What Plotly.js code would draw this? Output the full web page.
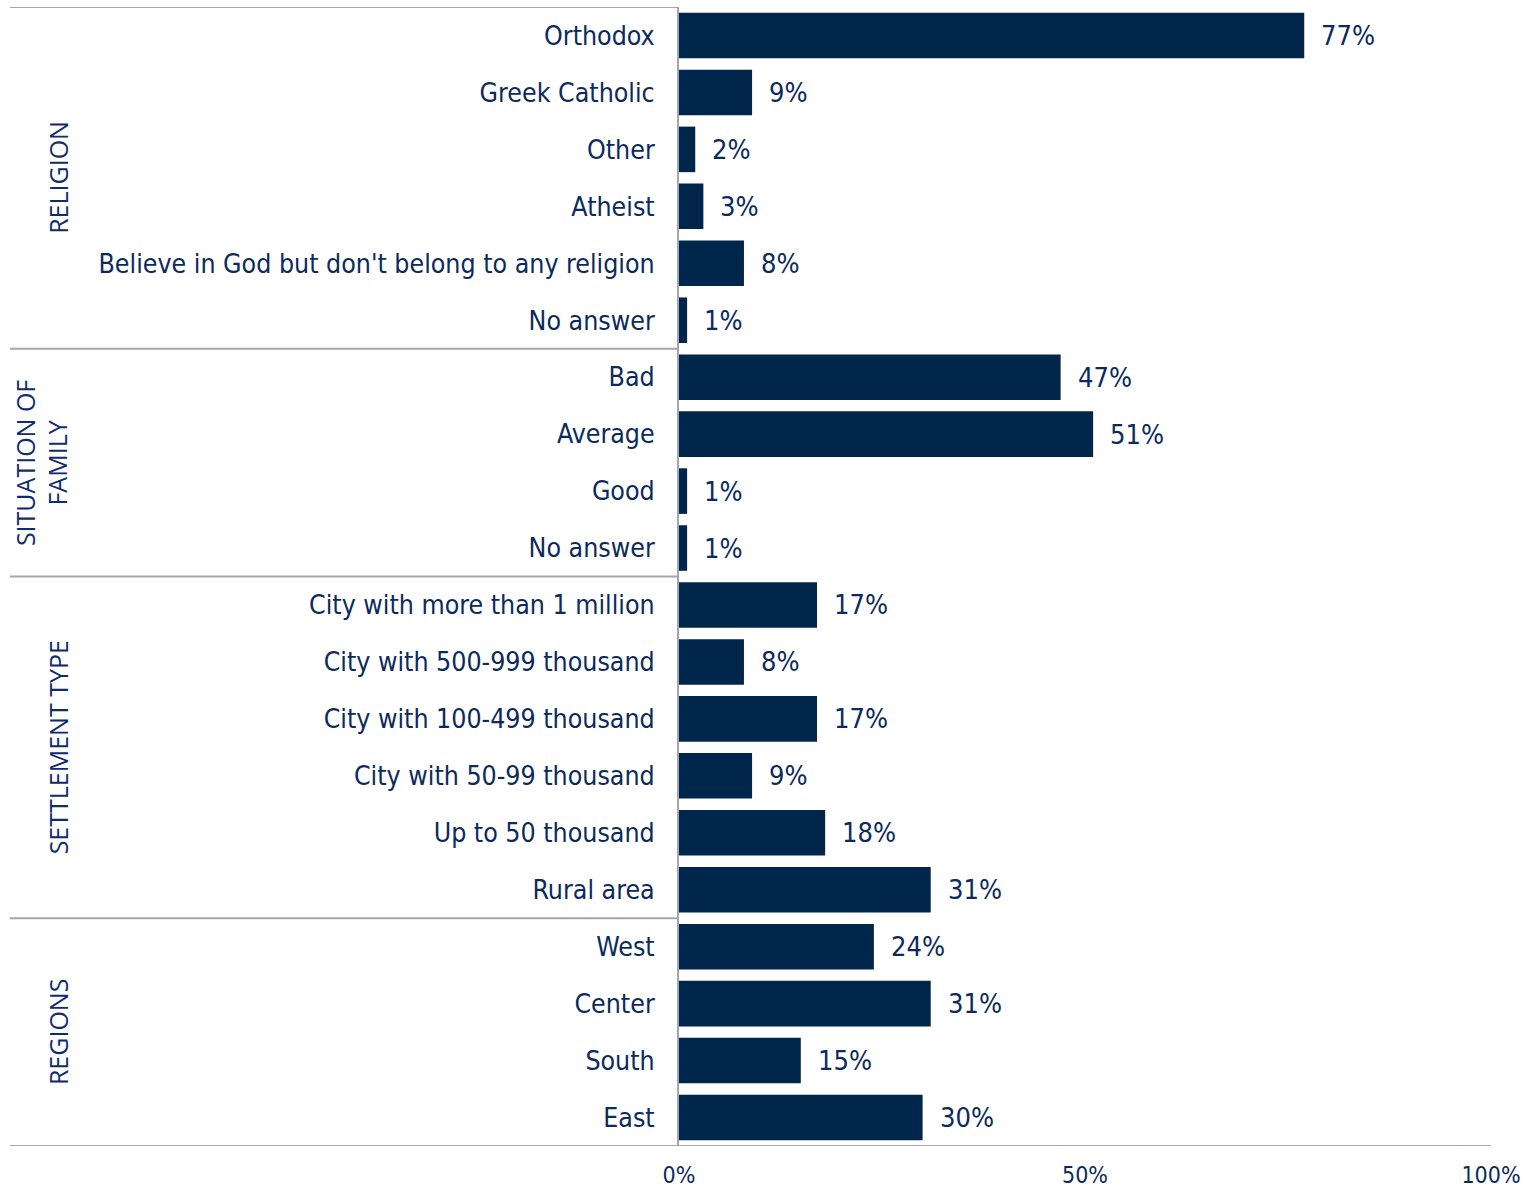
<!DOCTYPE html>
<html>
<head>
<meta charset="utf-8">
<script src="https://cdn.plot.ly/plotly-3.0.1.min.js"></script>
<style>html,body{margin:0;padding:0;background:#fff}#chart{width:1537px;height:1192px}</style>
</head>
<body>
<div id="chart"></div>
<script>
const categories = [
  "Orthodox","Greek Catholic","Other","Atheist","Believe in God but don't belong to any religion","No answer",
  "Bad","Average","Good","No answer",
  "City with more than 1 million","City with 500-999 thousand","City with 100-499 thousand","City with 50-99 thousand","Up to 50 thousand","Rural area",
  "West","Center","South","East"
];
const values = [77,9,2,3,8,1, 47,51,1,1, 17,8,17,9,18,31, 24,31,15,30];
const groups = ["RELIGION","SITUATION OF<br>FAMILY","SETTLEMENT TYPE","REGIONS"];
const groupSizes = [6,4,6,4];
const xTickVals = [0,50,100];
const xTickText = ["0%","50%","100%"];

const W = 1537, H = 1192;
const L = 679, R = 46, T = 7, B = 46;
const plotW = W - L - R;
const navy = "#00264b";
const textNavy = "#0c2a5c";
const grey = "#a3a6ad";

const idx = categories.map((_, i) => i);

const trace = {
  type: "bar",
  orientation: "h",
  x: values,
  y: idx,
  marker: {color: navy},
  width: 0.8,
  hoverinfo: "skip"
};

const annotations = [];
values.forEach((v, i) => {
  annotations.push({
    x: v, y: i, xref: "x", yref: "y",
    text: v + "%", showarrow: false, xanchor: "left", yanchor: "middle",
    xshift: 15,
    font: {family: "DejaVu Sans Condensed", size: 27, color: textNavy}
  });
});

const shapes = [];
let start = 0;
const lineX0 = (10 - L) / plotW;
shapes.push({type: "line", xref: "paper", yref: "y", x0: lineX0, x1: 0, y0: -0.5, y1: -0.5, line: {color: grey, width: 2}});
groupSizes.forEach((n, g) => {
  const end = start + n;
  const center = (start + end - 1) / 2;
  annotations.push({
    x: (77 - L) / plotW, y: center, xref: "paper", yref: "y",
    text: groups[g], showarrow: false, textangle: -90,
    xanchor: "right", yanchor: "middle",
    font: {family: "Open Sans", size: 25, color: "#0f2d6a"}
  });
  shapes.push({type: "line", xref: "paper", yref: "y", x0: lineX0, x1: g === groupSizes.length - 1 ? 1 : 0,
    y0: end - 0.5, y1: end - 0.5, line: {color: grey, width: 2}});
  start = end;
});

const layout = {
  width: W, height: H,
  margin: {l: L, r: R, t: T, b: B, pad: 0},
  paper_bgcolor: "#fff", plot_bgcolor: "#fff",
  showlegend: false,
  bargap: 0.2,
  xaxis: {
    range: [0, 100], tickvals: xTickVals, ticktext: xTickText,
    showgrid: false, zeroline: false, showline: false,
    ticks: "", ticklabelstandoff: 13,
    tickfont: {family: "DejaVu Sans Condensed", size: 23, color: textNavy},
    fixedrange: true
  },
  yaxis: {
    range: [categories.length - 0.5, -0.5],
    tickvals: idx, ticktext: categories,
    showgrid: false, zeroline: false,
    showline: true, linecolor: grey, linewidth: 2,
    ticks: "", ticklabelstandoff: 17,
    tickfont: {family: "DejaVu Sans Condensed", size: 26.5, color: textNavy},
    fixedrange: true
  },
  annotations: annotations,
  shapes: shapes
};

Plotly.newPlot("chart", [trace], layout, {displayModeBar: false, staticPlot: true});
</script>
</body>
</html>
